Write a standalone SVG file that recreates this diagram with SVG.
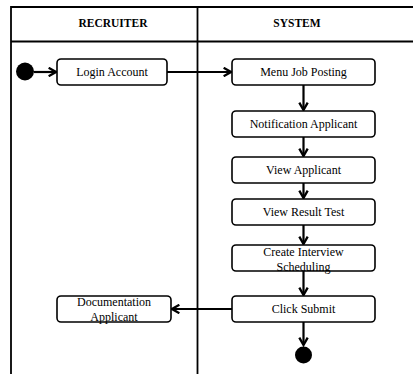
<svg xmlns="http://www.w3.org/2000/svg" width="413" height="374" viewBox="0 0 413 374" font-family="'Liberation Serif', 'Times New Roman', 'DejaVu Serif', serif">
  <style>
    .lane { fill: none; stroke: #000; stroke-width: 1.8; }
    .head { font-family: 'Liberation Serif', 'Times New Roman', serif; font-size: 11.5px; font-weight: bold; text-anchor: middle; fill: #000; }
    .act rect { fill: #fff; stroke: #000; stroke-width: 1.6; }
    .act text { font-family: 'Liberation Serif', 'Times New Roman', serif; font-size: 12px; text-anchor: middle; fill: #000; }
    .flow { fill: none; stroke: #000; stroke-width: 2.2; }
    .dot { fill: #000; }
  </style>
  <defs>
    <marker id="arrow" viewBox="0 0 10 10" refX="8.5" refY="5" markerWidth="10.5" markerHeight="10.5" markerUnits="userSpaceOnUse" orient="auto">
      <path d="M1.5,1 L8.5,5 L1.5,9" fill="none" stroke="#000" stroke-width="2.2"/>
    </marker>
  </defs>

  <rect width="413" height="374" fill="#fff"/>

  <!-- swimlanes -->
  <g id="lanes">
    <line class="lane" x1="11" y1="7" x2="413" y2="7"/>
    <line class="lane" x1="11" y1="41.5" x2="413" y2="41.5"/>
    <line class="lane" x1="11" y1="6" x2="11" y2="374"/>
    <line class="lane" x1="197.5" y1="6" x2="197.5" y2="374"/>
    <text class="head" x="113" y="27">RECRUITER</text>
    <text class="head" x="297" y="27">SYSTEM</text>
  </g>

  <!-- connectors -->
  <g id="connectors">
    <line class="flow" x1="34" y1="72" x2="56" y2="72" marker-end="url(#arrow)"/>
    <line class="flow" x1="167" y1="72" x2="231" y2="72" marker-end="url(#arrow)"/>
    <line class="flow" x1="303.5" y1="85" x2="303.5" y2="110" marker-end="url(#arrow)"/>
    <line class="flow" x1="303.5" y1="137" x2="303.5" y2="156" marker-end="url(#arrow)"/>
    <line class="flow" x1="303.5" y1="183" x2="303.5" y2="198" marker-end="url(#arrow)"/>
    <line class="flow" x1="303.5" y1="225" x2="303.5" y2="244" marker-end="url(#arrow)"/>
    <line class="flow" x1="303.5" y1="271" x2="303.5" y2="295" marker-end="url(#arrow)"/>
    <line class="flow" x1="232" y1="309" x2="172" y2="309" marker-end="url(#arrow)"/>
    <line class="flow" x1="303.5" y1="322" x2="303.5" y2="345" marker-end="url(#arrow)"/>
  </g>

  <!-- activity nodes -->
  <g id="start">
    <circle class="dot" cx="25" cy="71.5" r="9"/>
  </g>

  <g id="login-account" class="act">
    <rect x="57" y="59" width="110" height="26" rx="4"/>
    <text x="112" y="76">Login Account</text>
  </g>

  <g id="menu-job-posting" class="act">
    <rect x="232" y="59" width="143" height="26" rx="4"/>
    <text x="303.5" y="76">Menu Job Posting</text>
  </g>

  <g id="notification-applicant" class="act">
    <rect x="232" y="111" width="143" height="26" rx="4"/>
    <text x="303.5" y="128">Notification Applicant</text>
  </g>

  <g id="view-applicant" class="act">
    <rect x="232" y="157" width="143" height="26" rx="4"/>
    <text x="303.5" y="174">View Applicant</text>
  </g>

  <g id="view-result-test" class="act">
    <rect x="232" y="199" width="143" height="26" rx="4"/>
    <text x="303.5" y="216">View Result Test</text>
  </g>

  <g id="create-interview-scheduling" class="act">
    <rect x="232" y="245" width="143" height="26" rx="4"/>
    <text x="303.5" y="256">Create Interview</text>
    <text x="303.5" y="270.5">Scheduling</text>
  </g>

  <g id="click-submit" class="act">
    <rect x="232" y="296" width="143" height="26" rx="4"/>
    <text x="303.5" y="313">Click Submit</text>
  </g>

  <g id="documentation-applicant" class="act">
    <rect x="57" y="296" width="114" height="26" rx="4"/>
    <text x="114" y="306">Documentation</text>
    <text x="114" y="320.5">Applicant</text>
  </g>

  <g id="end">
    <circle class="dot" cx="303.5" cy="355" r="8.5"/>
  </g>
</svg>
